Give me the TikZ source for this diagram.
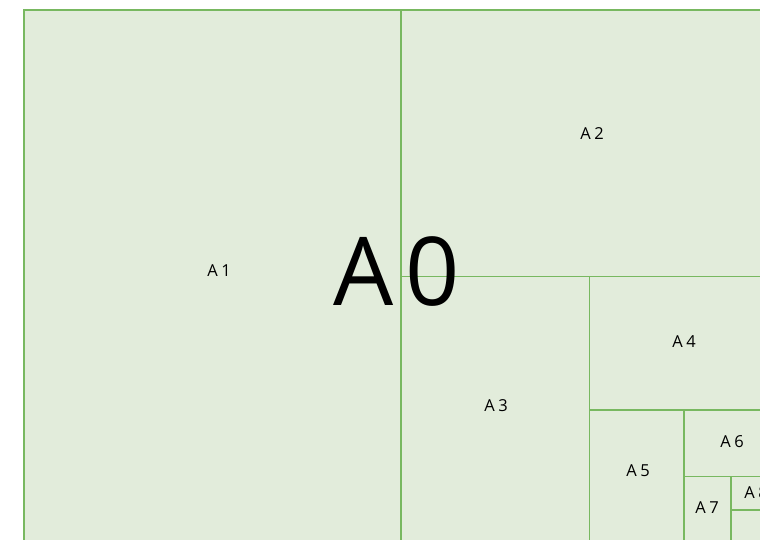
\documentclass[tikz,border=0pt]{standalone}
\usepackage{fontspec}
\setmainfont{Open Sans}
\definecolor{paperfill}{HTML}{E2ECDB}
\definecolor{paperline}{HTML}{78B860}
\begin{document}
\begin{tikzpicture}[x=1pt,y=-1pt,
  cut/.style={draw=paperline,line width=1.8pt},
  lbl/.style={font=\fontsize{16.5}{16.5}\selectfont,inner sep=0pt,anchor=center},
  big/.style={font=\fontsize{95}{95}\selectfont,inner sep=0pt,anchor=center}]
\useasboundingbox (0,0) rectangle (760,539);
\clip (0,0) rectangle (760,539);
\fill[paperfill] (24,10) rectangle (778,543);
\draw[cut] (24,10) rectangle (778,543);
\draw[cut] (401,10) -- (401,543);
\draw[cut] (401,276.5) -- (778,276.5);
\draw[cut] (589.5,276.5) -- (589.5,543);
\draw[cut] (589.5,409.75) -- (778,409.75);
\draw[cut] (683.75,409.75) -- (683.75,543);
\draw[cut] (683.75,476.4) -- (778,476.4);
\draw[cut] (730.9,476.4) -- (730.9,543);
\draw[cut] (730.9,509.7) -- (778,509.7);
\node[lbl] (a1) at (219,271) {A\kern3.5pt 1};
\node[lbl] (a2) at (592,134) {A\kern3.5pt 2};
\node[lbl] (a3) at (496,406) {A\kern3.5pt 3};
\node[lbl] (a4) at (684,342) {A\kern3.5pt 4};
\node[lbl] (a5) at (638,471) {A\kern3.5pt 5};
\node[lbl] (a6) at (732,442) {A\kern3.5pt 6};
\node[lbl] (a7) at (707,508) {A\kern3.5pt 7};
\node[lbl] (a8) at (756,493) {A\kern3.5pt 8};
\node[big] (a0) at (397,272) {A\kern12pt 0};
\end{tikzpicture}
\end{document}
